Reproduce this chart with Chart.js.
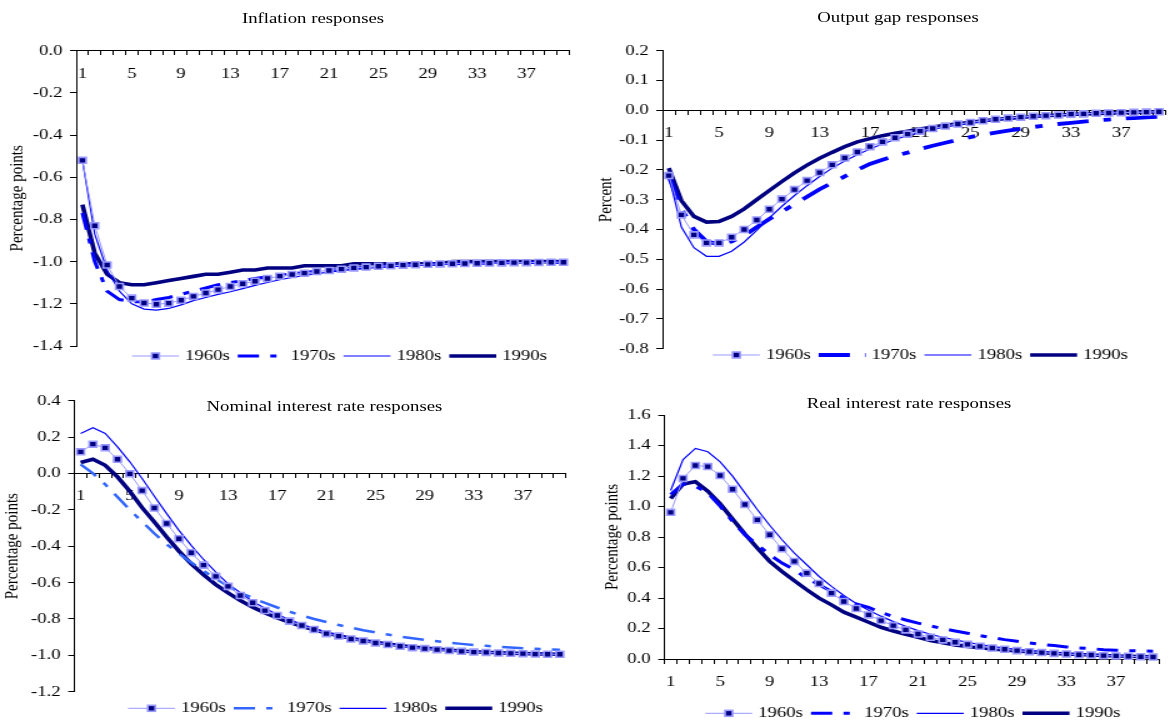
<!DOCTYPE html>
<html>
<head>
<meta charset="utf-8">
<script src="https://cdn.jsdelivr.net/npm/chart.js"></script>
<style>
  html, body { margin: 0; padding: 0; background: #fff; }
  /* charts are laid out narrow and stretched sideways */
  #page { position: relative; width: 937.6px; height: 722px; transform: scaleX(1.25); transform-origin: 0 0; }
  #page canvas { position: absolute; }
  .title { position: absolute; width: 300px; text-align: center; color: #000; white-space: nowrap;
           font: 15px "Liberation Serif", "Times New Roman", serif; line-height: 18px; }
</style>
</head>
<body>
<div id="page">
  <canvas id="inflation" width="469" height="372" style="left:0; top:0"></canvas>
  <canvas id="gap" width="469" height="372" style="left:468.8px; top:0"></canvas>
  <canvas id="nominal" width="469" height="350" style="left:0; top:372px"></canvas>
  <canvas id="real" width="469" height="350" style="left:468.8px; top:372px"></canvas>
  <div class="title" style="left:100.4px; top:8.5px">Inflation responses</div>
  <div class="title" style="left:568.4px; top:8.3px">Output gap responses</div>
  <div class="title" style="left:109.6px; top:397px">Nominal interest rate responses</div>
  <div class="title" style="left:577.2px; top:393.7px">Real interest rate responses</div>
</div>
<script>
const periods = ['1','2','3','4','5','6','7','8','9','10','11','12','13','14','15','16','17','18','19','20',
  '21','22','23','24','25','26','27','28','29','30','31','32','33','34','35','36','37','38','39','40'];
const decades = ['1960s', '1970s', '1980s', '1990s'];

const inflation60s = [-0.52,-0.83,-1.016,-1.118,-1.173,-1.196,-1.202,-1.197,-1.183,-1.165,-1.149,-1.133,-1.118,-1.105,-1.093,-1.08,-1.069,-1.061,-1.055,-1.047,
  -1.042,-1.036,-1.03,-1.026,-1.022,-1.02,-1.017,-1.015,-1.013,-1.011,-1.01,-1.009,-1.008,-1.007,-1.006,-1.005,-1.005,-1.004,-1.003,-1.003];
const inflation70s = [-0.77,-1.0,-1.14,-1.18,-1.19,-1.19,-1.18,-1.17,-1.155,-1.14,-1.125,-1.11,-1.1,-1.09,-1.08,-1.072,-1.065,-1.058,-1.052,-1.046,
  -1.041,-1.036,-1.031,-1.027,-1.023,-1.02,-1.017,-1.015,-1.013,-1.011,-1.01,-1.009,-1.008,-1.007,-1.006,-1.005,-1.005,-1.004,-1.003,-1.003];
const inflation80s = [-0.52,-0.87,-1.04,-1.14,-1.2,-1.225,-1.23,-1.222,-1.205,-1.185,-1.17,-1.155,-1.143,-1.128,-1.113,-1.099,-1.086,-1.075,-1.066,-1.057,
  -1.05,-1.043,-1.037,-1.032,-1.028,-1.024,-1.021,-1.018,-1.016,-1.014,-1.012,-1.01,-1.009,-1.008,-1.007,-1.006,-1.005,-1.004,-1.003,-1.003];
const inflation90s = [-0.73,-0.96,-1.06,-1.1,-1.11,-1.11,-1.1,-1.09,-1.08,-1.07,-1.06,-1.06,-1.05,-1.04,-1.04,-1.03,-1.03,-1.03,-1.02,-1.02,
  -1.02,-1.02,-1.01,-1.01,-1.01,-1.01,-1.01,-1.01,-1.01,-1.01,-1.0,-1.0,-1.0,-1.0,-1.0,-1.0,-1.0,-1.0,-1.0,-1.0];

const gap60s = [-0.219,-0.351,-0.418,-0.445,-0.445,-0.426,-0.4,-0.368,-0.332,-0.298,-0.266,-0.236,-0.209,-0.183,-0.16,-0.14,-0.122,-0.106,-0.092,-0.08,
  -0.07,-0.061,-0.053,-0.046,-0.041,-0.035,-0.03,-0.026,-0.023,-0.02,-0.018,-0.016,-0.013,-0.012,-0.01,-0.009,-0.008,-0.007,-0.006,-0.005];
const gap70s = [-0.22,-0.33,-0.4,-0.44,-0.45,-0.44,-0.42,-0.392,-0.365,-0.34,-0.315,-0.29,-0.265,-0.243,-0.222,-0.2,-0.18,-0.166,-0.153,-0.142,
  -0.13,-0.119,-0.109,-0.099,-0.09,-0.082,-0.075,-0.068,-0.062,-0.056,-0.051,-0.046,-0.042,-0.038,-0.034,-0.031,-0.028,-0.026,-0.024,-0.022];
const gap80s = [-0.22,-0.392,-0.461,-0.49,-0.49,-0.473,-0.442,-0.403,-0.361,-0.322,-0.286,-0.253,-0.222,-0.194,-0.17,-0.149,-0.13,-0.113,-0.098,-0.085,
  -0.074,-0.064,-0.056,-0.049,-0.043,-0.037,-0.032,-0.028,-0.024,-0.021,-0.018,-0.016,-0.014,-0.012,-0.01,-0.009,-0.008,-0.007,-0.006,-0.005];
const gap90s = [-0.194,-0.303,-0.356,-0.375,-0.373,-0.356,-0.331,-0.3,-0.269,-0.239,-0.21,-0.184,-0.161,-0.141,-0.122,-0.106,-0.095,-0.085,-0.077,-0.07,
  -0.063,-0.056,-0.05,-0.045,-0.04,-0.035,-0.031,-0.027,-0.024,-0.021,-0.018,-0.016,-0.014,-0.012,-0.011,-0.009,-0.008,-0.007,-0.006,-0.005];

const nominal60s = [0.119,0.161,0.141,0.078,-0.002,-0.094,-0.19,-0.275,-0.359,-0.436,-0.504,-0.566,-0.621,-0.671,-0.711,-0.754,-0.781,-0.812,-0.836,-0.858,
  -0.881,-0.894,-0.91,-0.921,-0.932,-0.941,-0.95,-0.958,-0.963,-0.969,-0.974,-0.978,-0.982,-0.984,-0.987,-0.989,-0.991,-0.993,-0.994,-0.994];
const nominal70s = [0.05,0.0,-0.06,-0.13,-0.2,-0.265,-0.33,-0.39,-0.44,-0.49,-0.535,-0.58,-0.62,-0.655,-0.685,-0.712,-0.737,-0.76,-0.781,-0.8,
  -0.817,-0.833,-0.848,-0.862,-0.874,-0.886,-0.897,-0.906,-0.915,-0.923,-0.93,-0.937,-0.943,-0.948,-0.953,-0.957,-0.961,-0.964,-0.967,-0.97];
const nominal80s = [0.22,0.251,0.22,0.146,0.064,-0.028,-0.125,-0.221,-0.313,-0.395,-0.473,-0.542,-0.607,-0.656,-0.704,-0.741,-0.776,-0.803,-0.829,-0.851,
  -0.872,-0.889,-0.905,-0.918,-0.929,-0.939,-0.948,-0.956,-0.962,-0.968,-0.973,-0.977,-0.981,-0.984,-0.987,-0.989,-0.991,-0.992,-0.993,-0.994];
const nominal90s = [0.06,0.078,0.045,-0.019,-0.098,-0.188,-0.267,-0.35,-0.427,-0.497,-0.557,-0.611,-0.657,-0.699,-0.735,-0.767,-0.794,-0.818,-0.84,-0.86,
  -0.878,-0.892,-0.906,-0.918,-0.928,-0.938,-0.946,-0.954,-0.96,-0.966,-0.971,-0.976,-0.98,-0.983,-0.986,-0.988,-0.99,-0.992,-0.993,-0.994];

const real60s = [0.962,1.184,1.269,1.262,1.203,1.113,1.013,0.912,0.815,0.723,0.64,0.563,0.495,0.432,0.377,0.331,0.289,0.252,0.219,0.191,
  0.164,0.142,0.125,0.11,0.096,0.083,0.072,0.064,0.055,0.048,0.042,0.037,0.033,0.028,0.026,0.022,0.02,0.018,0.015,0.013];
const real70s = [1.078,1.148,1.133,1.089,1.002,0.903,0.815,0.75,0.684,0.629,0.585,0.53,0.487,0.443,0.399,0.362,0.338,0.305,0.278,0.256,
  0.235,0.217,0.199,0.184,0.169,0.153,0.14,0.127,0.116,0.105,0.096,0.088,0.079,0.072,0.068,0.061,0.057,0.055,0.053,0.051];
const real80s = [1.105,1.308,1.381,1.359,1.293,1.199,1.089,0.98,0.877,0.782,0.695,0.618,0.541,0.476,0.416,0.364,0.32,0.281,0.245,0.215,
  0.186,0.162,0.142,0.125,0.109,0.095,0.083,0.072,0.063,0.055,0.048,0.042,0.037,0.032,0.028,0.024,0.021,0.018,0.016,0.014];
const real90s = [1.052,1.148,1.162,1.1,1.017,0.918,0.82,0.728,0.64,0.574,0.513,0.454,0.399,0.355,0.307,0.274,0.241,0.208,0.184,0.162,
  0.142,0.121,0.107,0.092,0.082,0.074,0.066,0.059,0.053,0.047,0.042,0.037,0.033,0.029,0.026,0.023,0.02,0.018,0.016,0.014];

Chart.defaults.font.family = '"Liberation Serif", "Times New Roman", serif';
Chart.defaults.font.size = 15;
Chart.defaults.color = '#000';

// line sample + label under each plot
const sampleLegend = {
  id: 'sampleLegend',
  afterDraw(chart, args, opts) {
    const ctx = chart.ctx;
    const x0 = chart.chartArea.left + opts.x;
    const y = opts.y;
    ctx.save();
    ctx.font = '15px "Liberation Serif", "Times New Roman", serif';
    ctx.textBaseline = 'middle';
    chart.data.datasets.forEach((ds, i) => {
      const x = x0 + i * 84.6;
      ctx.strokeStyle = ds.borderColor;
      ctx.lineWidth = ds.borderWidth;
      ctx.setLineDash(ds.borderDash || []);
      ctx.beginPath();
      ctx.moveTo(x, y);
      ctx.lineTo(x + 37.6, y);
      ctx.stroke();
      ctx.setLineDash([]);
      if (ds.pointRadius > 0) {
        const s = ds.pointRadius * Math.SQRT2;
        ctx.fillStyle = ds.pointBackgroundColor;
        ctx.fillRect(x + 18.8 - s / 2, y - s / 2, s, s);
        ctx.lineWidth = ds.pointBorderWidth;
        ctx.strokeStyle = ds.pointBorderColor;
        ctx.strokeRect(x + 18.8 - s / 2, y - s / 2, s, s);
      }
      ctx.fillStyle = '#000';
      ctx.fillText(ds.label, x + 42.4, y);
    });
    ctx.restore();
  }
};

function fmt(v) {
  return (Math.abs(v) < 1e-9 ? 0 : v).toFixed(1);
}

function makeChart(id, cfg) {
  const series = [
    {
      label: decades[0], data: cfg.values[0],
      borderColor: '#9999FF', borderWidth: 1,
      pointStyle: 'rect', pointRadius: 4.2, pointBackgroundColor: '#000080',
      pointBorderColor: '#9999FF', pointBorderWidth: 1.6
    },
    {
      label: decades[1], data: cfg.values[1],
      borderColor: cfg.dashColor, borderWidth: cfg.dashWidth, borderDash: cfg.dash, pointRadius: 0
    },
    { label: decades[2], data: cfg.values[2], borderColor: '#0000FF', borderWidth: 1.2, pointRadius: 0 },
    { label: decades[3], data: cfg.values[3], borderColor: '#000080', borderWidth: 3.6, pointRadius: 0 }
  ];

  return new Chart(document.getElementById(id), {
    type: 'line',
    data: { labels: periods, datasets: series },
    options: {
      responsive: false,
      animation: false,
      events: [],
      clip: false,
      elements: { line: { tension: 0 } },
      layout: { padding: cfg.padding },
      plugins: {
        legend: { display: false },
        tooltip: { enabled: false },
        sampleLegend: cfg.legend
      },
      scales: {
        x: {
          type: 'category',
          position: { y: 0 },
          offset: true,
          border: { color: '#000', width: 1 },
          grid: { offset: true, drawOnChartArea: false, tickLength: 4, color: '#000' },
          ticks: {
            autoSkip: false, maxRotation: 0, padding: 10,
            callback: function (v, i) { return i % 4 === 0 ? this.getLabelForValue(v) : ''; }
          }
        },
        y: {
          min: cfg.min, max: cfg.max,
          border: { color: '#000', width: 1 },
          grid: { drawOnChartArea: false, tickLength: 5, color: '#000' },
          ticks: { stepSize: cfg.step, padding: 6, callback: (v) => fmt(v) },
          title: { display: true, text: cfg.yTitle, padding: { top: cfg.titlePad, bottom: 0 } },
          afterFit: (scale) => { scale.width = cfg.axisLeft; }
        }
      }
    },
    plugins: [sampleLegend]
  });
}

makeChart('inflation', {
  values: [inflation60s, inflation70s, inflation80s, inflation90s],
  min: -1.4, max: 0, step: 0.2, yTitle: 'Percentage points', titlePad: 5.4,
  axisLeft: 61, padding: { left: 0, right: 13.3, top: 50.6, bottom: 26 },
  dashColor: '#0000FF', dashWidth: 3, dash: [17, 9, 5, 9],
  legend: { x: 44.6, y: 356 }
});

makeChart('gap', {
  values: [gap60s, gap70s, gap80s, gap90s],
  min: -0.8, max: 0.2, step: 0.1, yTitle: 'Percent', titlePad: 7.4,
  axisLeft: 61, padding: { left: 0, right: 2.6, top: 50.7, bottom: 23.3 },
  dashColor: '#0000FF', dashWidth: 3.8, dash: [25, 12, 6, 12],
  legend: { x: 40.3, y: 355 }
});

makeChart('nominal', {
  values: [nominal60s, nominal70s, nominal80s, nominal90s],
  min: -1.2, max: 0.4, step: 0.2, yTitle: 'Percentage points', titlePad: 1.4,
  axisLeft: 59.6, padding: { left: 0, right: 16.2, top: 28.7, bottom: 30.3 },
  dashColor: '#3366FF', dashWidth: 2.5, dash: [17, 9, 5, 9],
  legend: { x: 42.8, y: 336.3 }
});

makeChart('real', {
  values: [real60s, real70s, real80s, real90s],
  min: 0, max: 1.6, step: 0.2, yTitle: 'Percentage points', titlePad: 11.8,
  axisLeft: 62.6, padding: { left: 0, right: 10.6, top: 43, bottom: 63 },
  dashColor: '#0000FF', dashWidth: 3, dash: [17, 9, 5, 9],
  legend: { x: 32.6, y: 341.3 }
});
</script>
</body>
</html>
